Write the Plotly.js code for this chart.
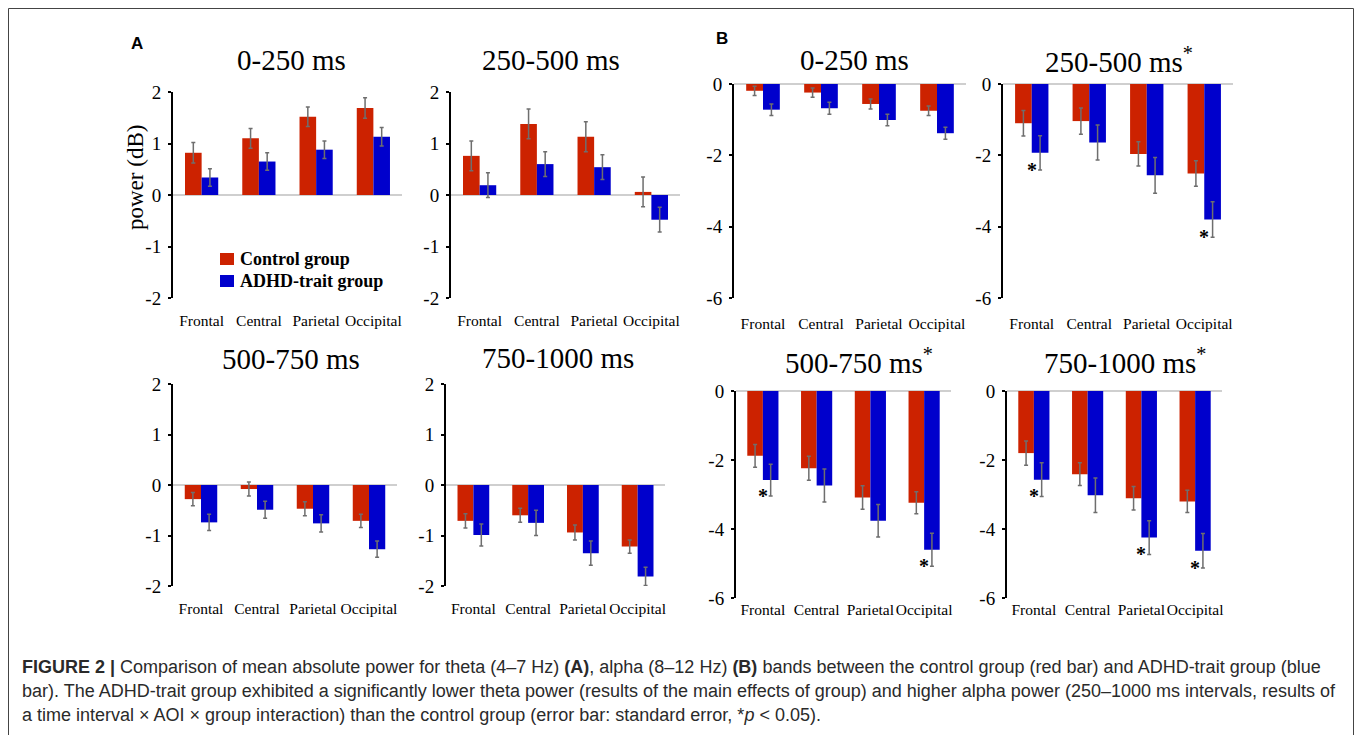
<!DOCTYPE html>
<html>
<head>
<meta charset="utf-8">
<script src="https://cdn.plot.ly/plotly-3.0.1.min.js"></script>
<style>html,body{margin:0;padding:0;background:#fff;}#chart{width:1357px;height:735px;}</style>
</head>
<body>
<div id="chart"></div>
<script>
// ---------- DATA ----------
var categories = ['Frontal', 'Central', 'Parietal', 'Occipital'];
var seriesNames = ['Control group', 'ADHD-trait group'];

// Panel A: theta power (dB)
var thetaTitles = ['0-250 ms', '250-500 ms', '500-750 ms', '750-1000 ms'];
var theta_0_250_control    = [0.82, 1.10, 1.52, 1.69];
var theta_0_250_controlErr = [0.20, 0.19, 0.19, 0.20];
var theta_0_250_adhd       = [0.34, 0.65, 0.88, 1.13];
var theta_0_250_adhdErr    = [0.17, 0.17, 0.17, 0.18];

var theta_250_500_control    = [0.76, 1.38, 1.13, 0.06];
var theta_250_500_controlErr = [0.29, 0.29, 0.29, 0.29];
var theta_250_500_adhd       = [0.19, 0.60, 0.54, -0.48];
var theta_250_500_adhdErr    = [0.24, 0.24, 0.24, 0.24];

var theta_500_750_control    = [-0.28, -0.08, -0.47, -0.71];
var theta_500_750_controlErr = [0.13, 0.14, 0.14, 0.13];
var theta_500_750_adhd       = [-0.74, -0.49, -0.76, -1.27];
var theta_500_750_adhdErr    = [0.16, 0.17, 0.17, 0.16];

var theta_750_1000_control    = [-0.71, -0.60, -0.94, -1.22];
var theta_750_1000_controlErr = [0.14, 0.14, 0.15, 0.13];
var theta_750_1000_adhd       = [-0.99, -0.75, -1.35, -1.81];
var theta_750_1000_adhdErr    = [0.22, 0.25, 0.24, 0.18];

// Panel B: alpha power (dB)
var alphaTitles = ['0-250 ms', '250-500 ms<sup>*</sup>', '500-750 ms<sup>*</sup>', '750-1000 ms<sup>*</sup>'];
var alpha_0_250_control    = [-0.19, -0.24, -0.56, -0.75];
var alpha_0_250_controlErr = [0.13, 0.13, 0.14, 0.13];
var alpha_0_250_adhd       = [-0.72, -0.68, -1.01, -1.38];
var alpha_0_250_adhdErr    = [0.16, 0.17, 0.16, 0.17];
var alpha_0_250_sig        = [0, 0, 0, 0];

var alpha_250_500_control    = [-1.10, -1.04, -1.96, -2.51];
var alpha_250_500_controlErr = [0.36, 0.37, 0.34, 0.36];
var alpha_250_500_adhd       = [-1.93, -1.64, -2.56, -3.80];
var alpha_250_500_adhdErr    = [0.48, 0.49, 0.50, 0.50];
var alpha_250_500_sig        = [1, 0, 0, 1];

var alpha_500_750_control    = [-1.88, -2.24, -3.09, -3.24];
var alpha_500_750_controlErr = [0.33, 0.35, 0.34, 0.32];
var alpha_500_750_adhd       = [-2.58, -2.74, -3.76, -4.60];
var alpha_500_750_adhdErr    = [0.46, 0.48, 0.47, 0.48];
var alpha_500_750_sig        = [1, 0, 0, 1];

var alpha_750_1000_control    = [-1.80, -2.41, -3.11, -3.20];
var alpha_750_1000_controlErr = [0.35, 0.33, 0.34, 0.32];
var alpha_750_1000_adhd       = [-2.57, -3.02, -4.25, -4.63];
var alpha_750_1000_adhdErr    = [0.49, 0.50, 0.49, 0.50];
var alpha_750_1000_sig        = [1, 0, 1, 1];

var thetaTickVals = [-2, -1, 0, 1, 2];
var thetaTickText = ['-2', '-1', '0', '1', '2'];
var alphaTickVals = [-6, -4, -2, 0];
var alphaTickText = ['-6', '-4', '-2', '0'];

var yTitle = 'power (dB)';
var captionLines = [
  '<b>FIGURE 2 |</b> Comparison of mean absolute power for theta (4\u20137 Hz) <b>(A)</b>, alpha (8\u201312 Hz) <b>(B)</b> bands between the control group (red bar) and ADHD-trait group (blue',
  'bar). The ADHD-trait group exhibited a significantly lower theta power (results of the main effects of group) and higher alpha power (250\u20131000 ms intervals, results of',
  'a time interval \u00d7 AOI \u00d7 group interaction) than the control group (error bar: standard error, *<i>p</i> &lt; 0.05).'
];

// ---------- STYLE / LAYOUT ----------
var W = 1357, H = 735;
function PX(x) { return x / W; }
function PY(y) { return 1 - y / H; }
var RED = '#cc2200', BLUE = '#0000cc', ERR = '#6e6e6e';
var SERIF = 'Liberation Serif, Times New Roman, serif';
var SANS = 'Liberation Sans, Arial, sans-serif';

var panels = [
  {c: theta_0_250_control, ce: theta_0_250_controlErr, a: theta_0_250_adhd, ae: theta_0_250_adhdErr, title: thetaTitles[0],
   box: [173, 402, 92, 298], theta: true, tl: 8, so: 0, tc: [291, 60]},
  {c: theta_250_500_control, ce: theta_250_500_controlErr, a: theta_250_500_adhd, ae: theta_250_500_adhdErr, title: thetaTitles[1],
   box: [451, 680, 92, 298], theta: true, tl: 8, so: 0, tc: [551, 60]},
  {c: theta_500_750_control, ce: theta_500_750_controlErr, a: theta_500_750_adhd, ae: theta_500_750_adhdErr, title: thetaTitles[2],
   box: [173, 397, 384, 586], theta: true, tl: 8, so: 0, tc: [291, 359]},
  {c: theta_750_1000_control, ce: theta_750_1000_controlErr, a: theta_750_1000_adhd, ae: theta_750_1000_adhdErr, title: thetaTitles[3],
   box: [446, 665, 384, 586], theta: true, tl: 8, so: 0, tc: [558, 358]},
  {c: alpha_0_250_control, ce: alpha_0_250_controlErr, a: alpha_0_250_adhd, ae: alpha_0_250_adhdErr, sig: alpha_0_250_sig, title: alphaTitles[0],
   box: [734, 966, 84, 298], theta: false, tl: 11, so: 0, tc: [854, 60]},
  {c: alpha_250_500_control, ce: alpha_250_500_controlErr, a: alpha_250_500_adhd, ae: alpha_250_500_adhdErr, sig: alpha_250_500_sig, title: alphaTitles[1],
   box: [1003, 1233, 84, 298], theta: false, tl: 11, so: 0, tc: [1119, 60]},
  {c: alpha_500_750_control, ce: alpha_500_750_controlErr, a: alpha_500_750_adhd, ae: alpha_500_750_adhdErr, sig: alpha_500_750_sig, title: alphaTitles[2],
   box: [736, 951, 391, 598], theta: false, tl: 1, so: -4, tc: [859, 361]},
  {c: alpha_750_1000_control, ce: alpha_750_1000_controlErr, a: alpha_750_1000_adhd, ae: alpha_750_1000_adhdErr, sig: alpha_750_1000_sig, title: alphaTitles[3],
   box: [1007, 1222, 391, 598], theta: false, tl: 1, so: -4, tc: [1125, 361]}
];

var traces = [];
var layout = {
  width: W, height: H,
  margin: {l: 0, r: 0, t: 0, b: 0},
  paper_bgcolor: '#ffffff', plot_bgcolor: 'rgba(0,0,0,0)',
  barmode: 'group', bargap: 0.42, bargroupgap: 0,
  showlegend: false,
  font: {family: SERIF, color: '#000'},
  annotations: [], shapes: []
};

panels.forEach(function (p, k) {
  var n = k + 1;
  var xa = n === 1 ? 'x' : 'x' + n, ya = n === 1 ? 'y' : 'y' + n;
  var xk = n === 1 ? 'xaxis' : 'xaxis' + n, yk = n === 1 ? 'yaxis' : 'yaxis' + n;
  [[p.c, p.ce, RED, seriesNames[0]], [p.a, p.ae, BLUE, seriesNames[1]]].forEach(function (s) {
    traces.push({
      type: 'bar', x: categories, y: s[0], name: s[3], xaxis: xa, yaxis: ya,
      marker: {color: s[2], line: {color: s[2], width: 0}},
      error_y: {type: 'data', array: s[1], visible: true, color: ERR, thickness: 1.5, width: 2},
      hoverinfo: 'x+y+name'
    });
  });
  layout[xk] = {
    domain: [PX(p.box[0]), PX(p.box[1])], anchor: ya, type: 'category',
    range: [-0.5, 3.5], showline: false, showgrid: false, zeroline: false,
    ticks: 'outside', ticklen: p.tl, tickcolor: 'rgba(0,0,0,0)', ticklabelstandoff: p.so,
    tickangle: 0, tickfont: {family: SERIF, size: 15.5, color: '#000'}, fixedrange: true
  };
  layout[yk] = {
    domain: [PY(p.box[3]), PY(p.box[2])], anchor: xa,
    range: p.theta ? [-2, 2] : [-6, 0],
    tickvals: p.theta ? thetaTickVals : alphaTickVals,
    ticktext: p.theta ? thetaTickText : alphaTickText,
    showline: true, linecolor: '#000', linewidth: 2,
    ticks: 'outside', ticklen: 3, tickwidth: 2, tickcolor: '#000', ticklabelstandoff: 3,
    showgrid: false, zeroline: true, zerolinecolor: '#cfcfcf', zerolinewidth: 2,
    tickfont: {family: SERIF, size: 19, color: '#000'}, fixedrange: true
  };
  layout.annotations.push({
    xref: 'paper', yref: 'paper', x: PX(p.tc[0]), y: PY(p.tc[1]),
    xanchor: 'center', yanchor: 'middle', showarrow: false,
    text: p.title, font: {family: SERIF, size: 29, color: '#000'}
  });
  if (p.sig) {
    p.sig.forEach(function (v, i) {
      if (!v) return;
      layout.annotations.push({
        xref: xa, yref: ya, x: categories[i], y: p.a[i] - 0.8 * p.ae[i],
        xanchor: 'center', yanchor: 'middle', yshift: -3, showarrow: false,
        text: '<b>*</b>', font: {family: SERIF, size: 20, color: '#000'}
      });
    });
  }
});

// y-axis title
layout.annotations.push({
  xref: 'paper', yref: 'paper', x: PX(136), y: PY(178), textangle: -90,
  xanchor: 'center', yanchor: 'middle', showarrow: false,
  text: yTitle, font: {family: SERIF, size: 23, color: '#000'}
});
// panel letters
layout.annotations.push({xref: 'paper', yref: 'paper', x: PX(137), y: PY(43), xanchor: 'center', yanchor: 'middle',
  showarrow: false, text: '<b>A</b>', font: {family: SANS, size: 17, color: '#000'}});
layout.annotations.push({xref: 'paper', yref: 'paper', x: PX(722), y: PY(39), xanchor: 'center', yanchor: 'middle',
  showarrow: false, text: '<b>B</b>', font: {family: SANS, size: 17, color: '#000'}});

// custom legend (panel A, first plot)
[[RED, seriesNames[0], 259], [BLUE, seriesNames[1], 281]].forEach(function (L) {
  layout.shapes.push({type: 'rect', xref: 'paper', yref: 'paper',
    x0: PX(220), x1: PX(234), y0: PY(L[2] + 6), y1: PY(L[2] - 6),
    fillcolor: L[0], line: {width: 0}});
  layout.annotations.push({xref: 'paper', yref: 'paper', x: PX(238), y: PY(L[2]),
    xanchor: 'left', yanchor: 'middle', showarrow: false,
    text: '<b>' + L[1] + '</b>', font: {family: SERIF, size: 18, color: '#000'}});
});

// caption
captionLines.forEach(function (t, i) {
  layout.annotations.push({xref: 'paper', yref: 'paper', x: PX(20), y: PY(667 + i * 24),
    xanchor: 'left', yanchor: 'middle', showarrow: false, align: 'left',
    text: t, font: {family: SANS, size: 18, color: '#2a2a2a'}});
});

// frame
layout.shapes.push({type: 'rect', xref: 'paper', yref: 'paper',
  x0: PX(8.5), x1: PX(1353.5), y0: -0.05, y1: PY(8.5),
  line: {color: '#444', width: 1}, fillcolor: 'rgba(0,0,0,0)', layer: 'below'});

Plotly.newPlot('chart', traces, layout, {staticPlot: true, displayModeBar: false});
</script>
</body>
</html>
